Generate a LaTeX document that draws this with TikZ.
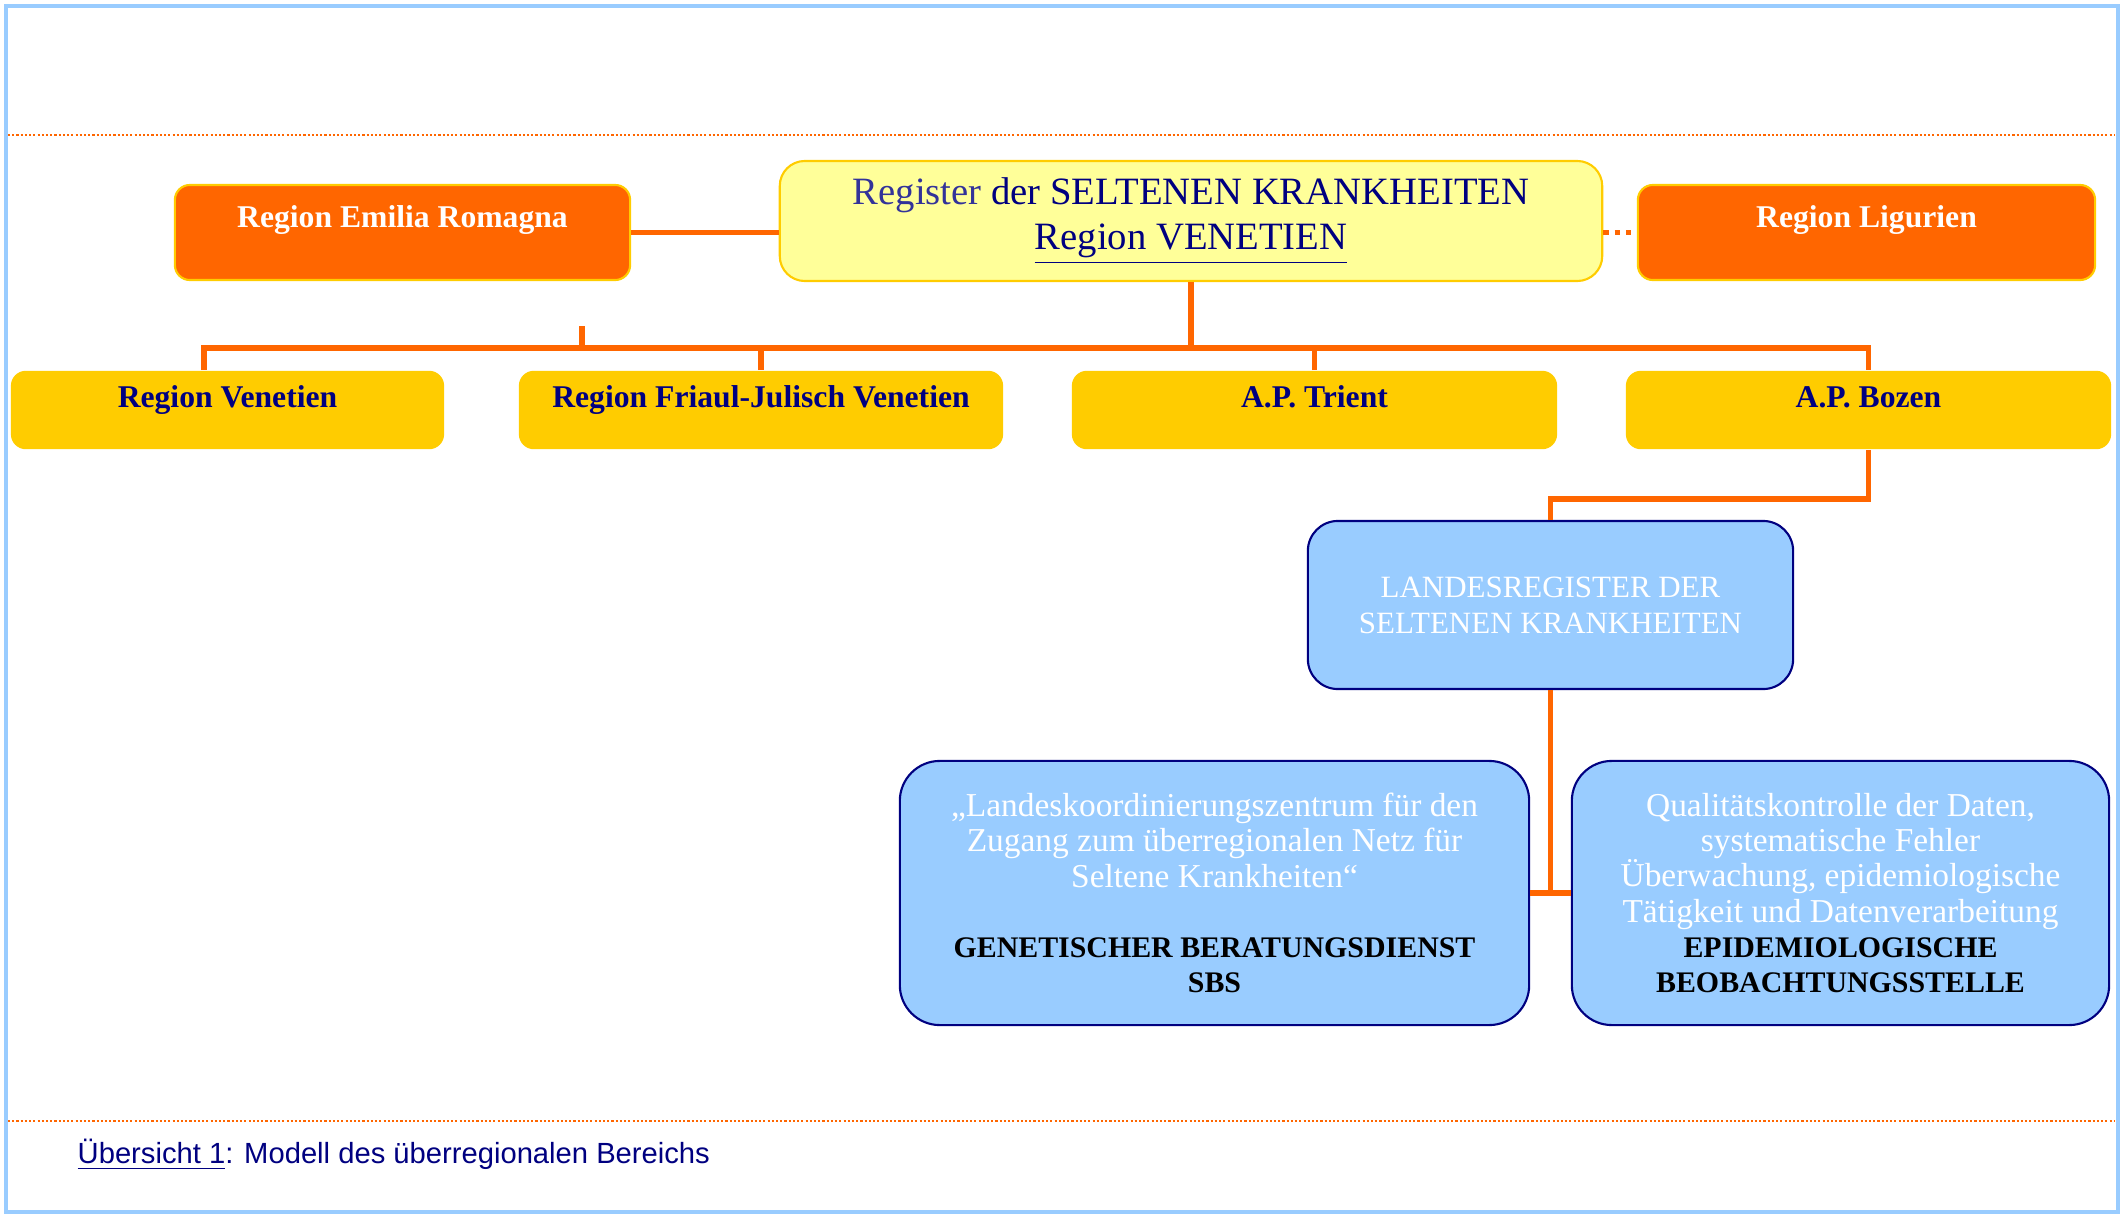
\documentclass[tikz,border=0pt]{standalone}
\usepackage{fontspec}
\setmainfont{Liberation Serif}
\newfontfamily\captionfont{Liberation Sans}
\usepackage{tikz}
\usetikzlibrary{positioning,calc}
\definecolor{regorange}{HTML}{FF6600}
\definecolor{reggold}{HTML}{FFCC00}
\definecolor{regcream}{HTML}{FFFF99}
\definecolor{regblue}{HTML}{99CCFF}
\definecolor{regnavy}{HTML}{000080}
\definecolor{regviolet}{HTML}{333399}
\newcommand{\officehead}[1]{{\color{black}\bfseries\fontsize{8.5}{10}\selectfont #1}}

\begin{document}
\begin{tikzpicture}[
  x=0.01cm, y=-0.01cm,
  partner/.style={draw=reggold, fill=regorange, line width=0.6pt, rounded corners=0.15cm,
                  minimum width=4.55cm, minimum height=0.95cm, text=white,
                  font=\bfseries\fontsize{9}{11}\selectfont, text height=0.25cm, text depth=0.35cm},
  hub/.style={draw=reggold, fill=regcream, line width=0.6pt, rounded corners=0.25cm,
              minimum width=8.22cm, minimum height=1.2cm, text=regnavy, align=center,
              font=\fontsize{11}{12.8}\selectfont},
  member/.style={fill=reggold, rounded corners=0.15cm, minimum width=4.85cm, minimum height=0.77cm,
                 text=regnavy, font=\bfseries\fontsize{9}{11}\selectfont,
                 text height=0.25cm, text depth=0.30cm},
  office/.style={draw=regnavy, fill=regblue, line width=0.6pt, rounded corners=0.4cm,
                 text=white, align=center, font=\fontsize{9.5}{10}\selectfont},
  link/.style={draw=regorange, line width=1.6pt}
]
\useasboundingbox (0,0) rectangle (2123,1215);

% Page frame and separators
\draw[regblue, line width=1.4pt] (6,6) rectangle (2118,1212);
\draw[regorange, line width=0.6pt, dash pattern=on 0.6pt off 0.6pt] (8,135) -- (2115,135);
\draw[regorange, line width=0.6pt, dash pattern=on 0.6pt off 0.6pt] (8,1121) -- (2115,1121);

% Top row: central register and neighbouring regions
\node[hub] (central) at (1191, 221) {
  \textcolor{regviolet}{Register} der SELTENEN KRANKHEITEN\\
  \underline{Region VENETIEN}
};
\node[partner] (emilia) at (402.5, 232.5) {Region Emilia Romagna};
\node[partner, minimum width=4.57cm] (liguria) at (1866.5, 232.5) {Region Ligurien};

% Second row: participating regions
\node[member, minimum width=4.33cm] (venetien) at (227.5, 410) {Region Venetien};
\node[member, minimum width=4.84cm] (friaul) at (761, 410) {Region Friaul-Julisch Venetien};
\node[member] (trient) at (1314.5, 410) {A.P. Trient};
\node[member] (bozen) at (1868.5, 410) {A.P. Bozen};

% Provincial register
\node[office, minimum width=4.85cm, minimum height=1.68cm, rounded corners=0.3cm,
      font=\fontsize{8.8}{10.2}\selectfont] (landes) at (1550.5, 605) {
  LANDESREGISTER DER\\
  SELTENEN KRANKHEITEN
};

% Bottom row: services
\node[office, minimum width=6.29cm, minimum height=2.64cm] (sbs) at (1214.5, 893) {
  „Landeskoordinierungszentrum für den\\
  Zugang zum überregionalen Netz für\\
  Seltene Krankheiten“\\[10pt]
  \officehead{GENETISCHER BERATUNGSDIENST}\\
  \officehead{SBS}
};
\node[office, minimum width=5.37cm, minimum height=2.64cm] (beob) at (1840.5, 893) {
  Qualitätskontrolle der Daten,\\
  systematische Fehler\\
  Überwachung, epidemiologische\\
  Tätigkeit und Datenverarbeitung\\
  \officehead{EPIDEMIOLOGISCHE}\\
  \officehead{BEOBACHTUNGSSTELLE}
};

% Connectors
\coordinate (bus) at (1191, 348);
\coordinate (stub) at (582, 326);
\draw[link] (emilia.east) -- (emilia.east -| central.west);
\draw[link, dash pattern=on 1.6pt off 1.6pt] (liguria.west -| central.east) -- (liguria.west);
\draw[link] (central.south) -- (bus);
\draw[link] ([xshift=-0.235cm]venetien.north) |- (bus -| bozen.north) -- (bozen.north);
\draw[link] (stub) -- (stub |- bus);
\foreach \n in {friaul, trient}
  \draw[link] (\n.north) -- (\n.north |- bus);
\draw[link] (bozen.south) -- ++(0,49) -| (landes.north);
\draw[link] (landes.south) -- (landes.south |- sbs.east);
\draw[link] (sbs.east) -- (beob.west);

% Caption
\node[anchor=base west, inner sep=0pt, text=regnavy, font=\captionfont\fontsize{8.3}{10}\selectfont]
  (caption) at (77, 1163) {\underline{Übersicht 1}: Modell des überregionalen Bereichs};

\end{tikzpicture}
\end{document}
